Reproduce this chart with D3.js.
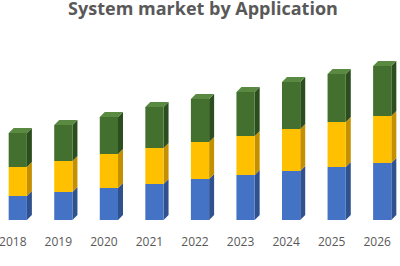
<!DOCTYPE html>
<html>
<head>
<meta charset="utf-8">
<script src="https://cdn.jsdelivr.net/npm/d3@7"></script>
<style>
  body { margin: 0; background: #fff; }
  svg { display: block; }
</style>
</head>
<body>
<svg id="chart" width="400" height="266"></svg>
<script>
const years = ["2018", "2019", "2020", "2021", "2022", "2023", "2024", "2025", "2026"];
const seriesA = [24, 28, 32, 36, 41, 45, 49, 53, 57];   // blue
const seriesB = [29, 31, 34, 36, 37, 39, 42, 45, 47];   // yellow
const seriesC = [34, 36, 37, 41, 43, 44, 47, 48, 50];   // green

const width = 400;
const height = 266;
const depth = 5;

const colors = [
  { front: "#4472C4", side: "#2F528F", top: "#5B86D0" },
  { front: "#FFC000", side: "#C49000", top: "#FFCD33" },
  { front: "#43702F", side: "#2C4D1E", top: "#5A8A42" }
];

const svg = d3.select("#chart");

svg.append("text")
  .attr("x", 203)
  .attr("y", 15)
  .attr("text-anchor", "middle")
  .style("font-family", "'Open Sans', sans-serif")
  .style("font-weight", "bold")
  .style("font-size", "18px")
  .style("fill", "#595959")
  .text("System market by Application");

const x = d3.scaleBand()
  .domain(years)
  .range([-5, 405])
  .paddingInner(0.6)
  .paddingOuter(0.3);

const y = d3.scaleLinear()
  .domain([0, 154])
  .range([220, 66]);

const stackData = years.map((yr, i) => ({ year: yr, a: seriesA[i], b: seriesB[i], c: seriesC[i] }));
const stacked = d3.stack().keys(["a", "b", "c"])(stackData);

stacked.forEach((layer, li) => {
  const col = colors[li];
  const g = svg.append("g");
  layer.forEach(d => {
    const x0 = x(d.data.year);
    const w = x.bandwidth();
    const yTop = y(d[1]);
    const yBot = y(d[0]);
    // side face
    g.append("path")
      .attr("d", `M${x0 + w},${yBot} L${x0 + w + depth},${yBot - depth} L${x0 + w + depth},${yTop - depth} L${x0 + w},${yTop} Z`)
      .attr("fill", col.side);
    // front face
    g.append("rect")
      .attr("x", x0)
      .attr("y", yTop)
      .attr("width", w)
      .attr("height", yBot - yTop)
      .attr("fill", col.front);
    // top face only for the last layer
    if (li === stacked.length - 1) {
      g.append("path")
        .attr("d", `M${x0},${yTop} L${x0 + depth},${yTop - depth} L${x0 + w + depth},${yTop - depth} L${x0 + w},${yTop} Z`)
        .attr("fill", col.top);
    }
  });
});

// Axis labels
const xAxis = d3.axisBottom(x).tickSize(0).tickPadding(0);
const axisG = svg.append("g")
  .attr("transform", "translate(-5, 237)")
  .call(xAxis);
axisG.select(".domain").remove();
axisG.selectAll("text")
  .style("font-family", "'Open Sans', sans-serif")
  .style("font-size", "12px")
  .style("fill", "#595959");
</script>
</body>
</html>
